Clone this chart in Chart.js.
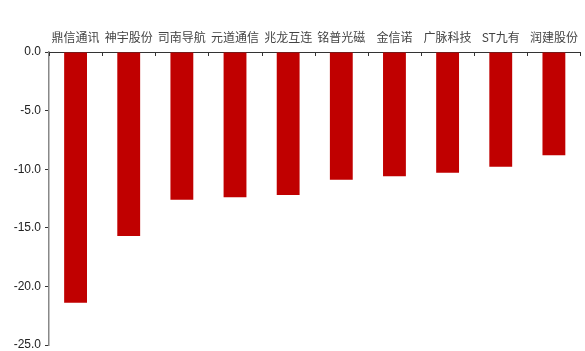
<!DOCTYPE html>
<html lang="zh">

<head>
  <title></title>
  <meta charset="UTF-8">
  <script src="https://cdn.jsdelivr.net/npm/chart.js@4.4.1/dist/chart.umd.min.js"></script>
  <style>
    html, body { margin: 0; padding: 0; background: #fff; }
  </style>
</head>

<body>
  <div style="width:585px;height:351px;">
    <canvas id="myChart" width="585" height="351"></canvas>
  </div>
  <script>
    const names = ["鼎信通讯", "神宇股份", "司南导航", "元道通信", "兆龙互连", "铭普光磁", "金信诺", "广脉科技", "ST九有", "润建股份"];
    const changes = [-21.4, -15.7, -12.6, -12.4, -12.2, -10.9, -10.6, -10.3, -9.8, -8.8];
    const yTicks = [-25, -20, -15, -10, -5, 0];

    // tick marks under the top axis line, between categories
    const tickMarks = {
      id: 'tickMarks',
      afterDraw(chart) {
        const x = chart.scales.x;
        const top = chart.chartArea.top;
        const ctx = chart.ctx;
        ctx.save();
        ctx.strokeStyle = '#333';
        ctx.lineWidth = 1;
        for (let i = 0; i <= names.length; i++) {
          const px = Math.round(x.getPixelForValue(i - 0.5)) + 0.5;
          ctx.beginPath();
          ctx.moveTo(px, top);
          ctx.lineTo(px, top + 4);
          ctx.stroke();
        }
        ctx.restore();
      }
    };

    new Chart("myChart", {
      type: "bar",
      data: {
        labels: names,
        datasets: [{
          data: changes,
          backgroundColor: "#C00000",
          borderWidth: 0,
          barPercentage: 0.43,
          categoryPercentage: 1
        }]
      },
      options: {
        responsive: false,
        animation: false,
        layout: { padding: { left: 0, right: 2, top: 0, bottom: 6 } },
        plugins: {
          legend: { display: false },
          tooltip: { enabled: false }
        },
        scales: {
          x: {
            position: 'top',
            offset: true,
            grid: { display: false, drawTicks: false },
            border: { display: true, color: '#333', width: 1 },
            ticks: {
              padding: 7,
              color: '#444',
              font: { family: '"Noto Sans CJK SC"', size: 12 },
              maxRotation: 0,
              autoSkip: false
            },
            afterFit: function (scale) { scale.height = 52; }
          },
          y: {
            min: -25,
            max: 0,
            grid: {
              drawOnChartArea: false,
              drawTicks: true,
              tickLength: 4,
              color: '#333'
            },
            border: { display: true, color: '#888', width: 1.5 },
            ticks: {
              padding: 4,
              color: '#222',
              font: { family: '"Liberation Sans", Arial', size: 12 },
              callback: function (value) { return value.toFixed(1); }
            },
            afterBuildTicks: function (scale) {
              scale.ticks = yTicks.map(v => ({ value: v }));
            },
            afterFit: function (scale) {
              scale.width = 49;
              scale.paddingTop = 0;
              scale.paddingBottom = 0;
            }
          }
        }
      },
      plugins: [tickMarks]
    });
  </script>
</body>

</html>
